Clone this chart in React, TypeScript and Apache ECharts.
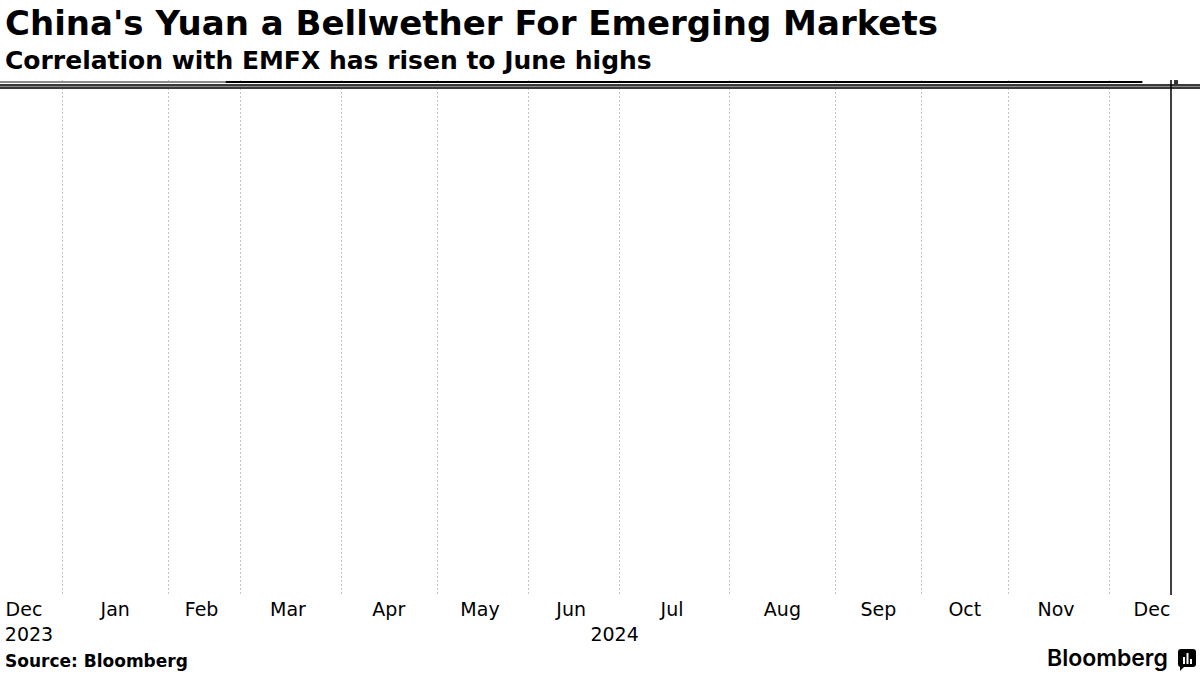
import React, { useEffect, useRef } from "react";
import * as echarts from "echarts";

// ---- data ----
const monthNames = ["Dec", "Jan", "Feb", "Mar", "Apr", "May", "Jun", "Jul", "Aug", "Sep", "Oct", "Nov", "Dec"];
// trading days plotted in each month (Dec 2023 is partial)
const monthDayCounts = [13, 22, 15, 21, 20, 19, 19, 23, 22, 18, 18, 21, 19];
const yearLabels = ["2023", "2024"];
const yearLabelIndex = [1, 123];
const firstLabelIndex = 5;

// correlation line (squashed at top of the frame in the reference)
const corrEarly: [number, number][] = [[0, 99.6], [47, 99.6]];
const corrLate: [number, number][] = [[47, 99.6], [238, 99.6]];
const latestPoint: [number, number][] = [[245, 99.6]];
const bandLevel = 98.7;
const markerIndex = 244;

const TITLE = "China's Yuan a Bellwether For Emerging Markets";
const SUBTITLE = "Correlation with EMFX has risen to June highs";
const SOURCE = "Source: Bloomberg";

export default function App() {
  const ref = useRef<HTMLDivElement>(null);

  useEffect(() => {
    if (!ref.current) return;
    const chart = echarts.init(ref.current, undefined, { renderer: "svg" });

    const total = monthDayCounts.reduce((a, b) => a + b, 0);
    const categories: string[] = [];
    for (let i = 0; i <= total; i++) categories.push(String(i));

    const starts: number[] = [];
    let acc = 0;
    monthDayCounts.forEach((c) => {
      starts.push(acc);
      acc += c;
    });
    const gridSet = new Set(starts.filter((s) => s > 0));
    const labelMap = new Map<number, string>();
    starts.forEach((s, i) => {
      const idx = i === 0 ? firstLabelIndex : Math.floor(s + monthDayCounts[i] / 2);
      labelMap.set(idx, monthNames[i]);
    });
    const yearMap = new Map<number, string>();
    yearLabelIndex.forEach((idx, i) => yearMap.set(idx, yearLabels[i]));

    const font = "DejaVu Sans";

    chart.setOption({
      animation: false,
      backgroundColor: "#ffffff",
      title: [
        {
          text: TITLE,
          left: 0,
          top: 1,
          textStyle: { fontFamily: font, fontWeight: "bold", fontSize: 34, color: "#000" },
        },
        {
          text: SUBTITLE,
          left: 0,
          top: 43,
          textStyle: { fontFamily: font, fontWeight: "bold", fontSize: 25, color: "#000" },
        },
      ],
      grid: { left: 0, right: 0, top: 80, bottom: 80, containLabel: false },
      xAxis: [
        {
          type: "category",
          data: categories,
          boundaryGap: false,
          position: "bottom",
          axisLine: { show: false },
          axisTick: { show: false },
          splitLine: {
            show: true,
            interval: (idx: number) => gridSet.has(idx),
            lineStyle: { color: "#c4c4c4", width: 1, type: [2, 2] },
          },
          axisLabel: {
            interval: (idx: number) => labelMap.has(idx),
            formatter: (_v: string, idx: number) => labelMap.get(idx) || "",
            fontFamily: font,
            fontSize: 19,
            color: "#000",
            margin: 4,
            align: "center",
          },
        },
        {
          type: "category",
          data: categories,
          boundaryGap: false,
          position: "bottom",
          offset: 25,
          axisLine: { show: false },
          axisTick: { show: false },
          splitLine: { show: false },
          axisLabel: {
            interval: (idx: number) => yearMap.has(idx),
            formatter: (_v: string, idx: number) => yearMap.get(idx) || "",
            fontFamily: font,
            fontSize: 19,
            color: "#000",
            margin: 4,
            align: "left",
          },
        },
      ],
      yAxis: {
        type: "value",
        min: 0,
        max: 100,
        show: false,
        splitLine: { show: false },
      },
      series: [
        {
          name: "band",
          type: "line",
          data: [],
          silent: true,
          markLine: {
            silent: true,
            symbol: ["none", "none"],
            label: { show: false },
            data: [
              { yAxis: bandLevel, lineStyle: { color: "#3a3a3a", width: 5, type: "solid" } },
              { yAxis: bandLevel, lineStyle: { color: "#8a8a8a", width: 1, type: "solid" } },
              { xAxis: String(markerIndex), lineStyle: { color: "#000", width: 1.5, type: "solid" } },
            ],
          },
        },
        {
          name: "early",
          type: "line",
          data: corrEarly,
          showSymbol: false,
          clip: false,
          lineStyle: { color: "#8c8c8c", width: 2 },
        },
        {
          name: "late",
          type: "line",
          data: corrLate,
          showSymbol: false,
          clip: false,
          lineStyle: { color: "#000", width: 2 },
        },
        {
          name: "latest",
          type: "scatter",
          data: latestPoint,
          symbol: "rect",
          symbolSize: 4,
          clip: false,
          itemStyle: { color: "#000" },
        },
      ],
      graphic: [
        {
          type: "text",
          left: 5,
          top: 652,
          style: { text: SOURCE, font: `bold 17px '${font}'`, fill: "#000" },
        },
        {
          type: "text",
          left: 1047,
          top: 646,
          style: { text: "Bloomberg", font: "600 23px Inter", fill: "#000" },
        },
        {
          type: "group",
          left: 1178,
          top: 649,
          children: [
            { type: "rect", shape: { x: 0, y: 0, width: 18, height: 18, r: 3 }, style: { fill: "#000" } },
            { type: "polygon", shape: { points: [[2, 17], [7, 17], [2, 22]] }, style: { fill: "#000" } },
            { type: "rect", shape: { x: 5, y: 8, width: 2, height: 7 }, style: { fill: "#fff" } },
            { type: "rect", shape: { x: 8.5, y: 4, width: 2, height: 11 }, style: { fill: "#fff" } },
            { type: "rect", shape: { x: 12, y: 10, width: 2, height: 5 }, style: { fill: "#fff" } },
          ],
        },
      ],
    });

    return () => chart.dispose();
  }, []);

  return (
    <div
      ref={ref}
      style={{ position: "fixed", left: 0, top: 0, width: 1200, height: 675, background: "#fff" }}
    />
  );
}
